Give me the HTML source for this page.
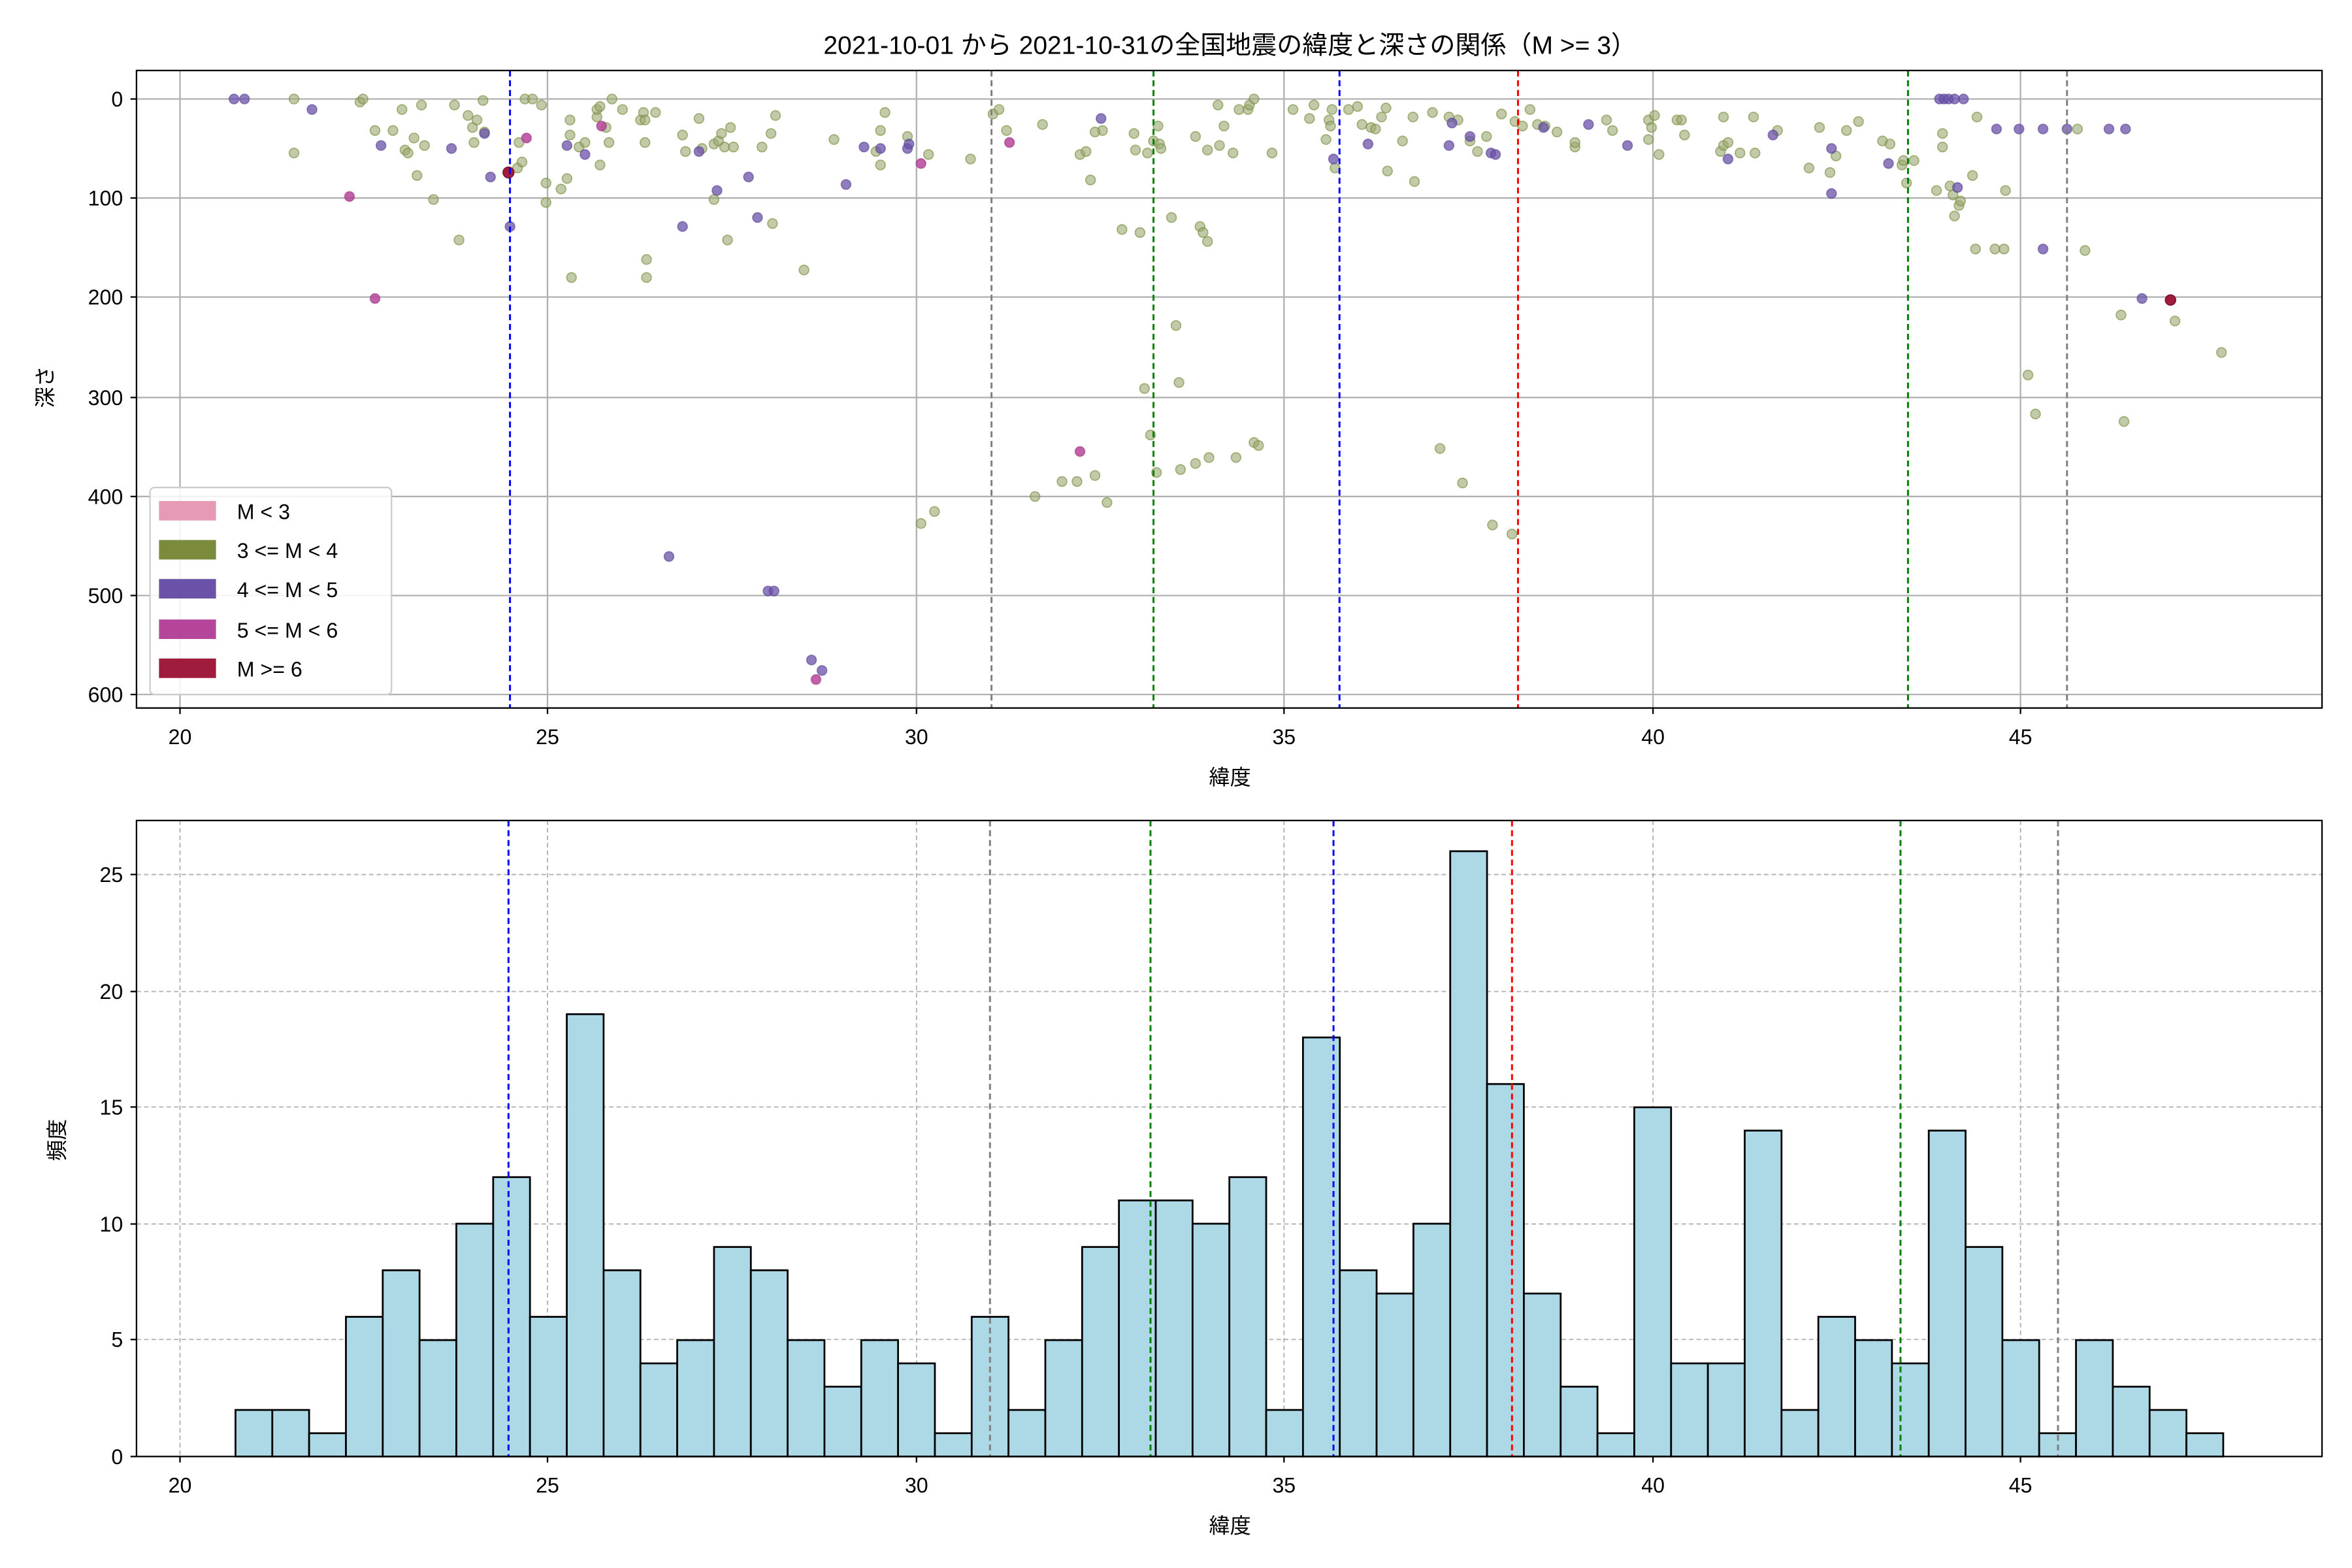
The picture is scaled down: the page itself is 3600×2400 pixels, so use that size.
<!DOCTYPE html>
<html><head><meta charset="utf-8"><style>body{margin:0;background:#fff}svg{display:block}text{font-family:"Liberation Sans","Noto Sans CJK JP",sans-serif;fill:#000}</style></head>
<body>
<svg xmlns="http://www.w3.org/2000/svg" width="3600" height="2400" viewBox="0 0 1568 1045.33">
<rect width="1568" height="1046" fill="#fff"/>
<text x="820" y="36" font-size="17" text-anchor="middle">2021-10-01 から 2021-10-31の全国地震の緯度と深さの関係（M &gt;= 3）</text>
<!-- TOP PANEL -->
<g stroke="#b0b0b0" stroke-width="1">
<line x1="120" y1="47" x2="120" y2="472"/><line x1="365" y1="47" x2="365" y2="472"/><line x1="611" y1="47" x2="611" y2="472"/><line x1="856" y1="47" x2="856" y2="472"/><line x1="1102" y1="47" x2="1102" y2="472"/><line x1="1347" y1="47" x2="1347" y2="472"/>
<line x1="91" y1="66" x2="1548" y2="66"/><line x1="91" y1="132" x2="1548" y2="132"/><line x1="91" y1="198" x2="1548" y2="198"/><line x1="91" y1="265" x2="1548" y2="265"/><line x1="91" y1="331" x2="1548" y2="331"/><line x1="91" y1="397" x2="1548" y2="397"/><line x1="91" y1="463" x2="1548" y2="463"/>
</g>
<g fill="#9aa870" fill-opacity="0.6" stroke="#7a8c3c" stroke-opacity="0.6" stroke-width="0.8">
<circle cx="196" cy="66" r="3.2"/><circle cx="196" cy="102" r="3.2"/><circle cx="240" cy="68" r="3.2"/><circle cx="242" cy="66" r="3.2"/><circle cx="250" cy="87" r="3.2"/><circle cx="262" cy="87" r="3.2"/><circle cx="268" cy="73" r="3.2"/><circle cx="270" cy="100" r="3.2"/><circle cx="272" cy="102" r="3.2"/><circle cx="276" cy="92" r="3.2"/><circle cx="278" cy="117" r="3.2"/><circle cx="283" cy="97" r="3.2"/><circle cx="281" cy="70" r="3.2"/><circle cx="289" cy="133" r="3.2"/><circle cx="303" cy="70" r="3.2"/><circle cx="306" cy="160" r="3.2"/><circle cx="312" cy="77" r="3.2"/><circle cx="315" cy="85" r="3.2"/><circle cx="318" cy="80" r="3.2"/><circle cx="316" cy="95" r="3.2"/><circle cx="323" cy="88" r="3.2"/><circle cx="322" cy="67" r="3.2"/><circle cx="345" cy="112" r="3.2"/><circle cx="348" cy="108" r="3.2"/><circle cx="346" cy="95" r="3.2"/><circle cx="350" cy="66" r="3.2"/><circle cx="355" cy="66" r="3.2"/><circle cx="361" cy="70" r="3.2"/><circle cx="364" cy="122" r="3.2"/><circle cx="364" cy="135" r="3.2"/><circle cx="374" cy="126" r="3.2"/><circle cx="378" cy="119" r="3.2"/><circle cx="380" cy="90" r="3.2"/><circle cx="380" cy="80" r="3.2"/><circle cx="381" cy="185" r="3.2"/><circle cx="386" cy="98" r="3.2"/><circle cx="390" cy="95" r="3.2"/><circle cx="398" cy="78" r="3.2"/><circle cx="398" cy="73" r="3.2"/><circle cx="400" cy="71" r="3.2"/><circle cx="400" cy="110" r="3.2"/><circle cx="404" cy="85" r="3.2"/><circle cx="406" cy="95" r="3.2"/><circle cx="408" cy="66" r="3.2"/><circle cx="415" cy="73" r="3.2"/><circle cx="427" cy="80" r="3.2"/><circle cx="429" cy="75" r="3.2"/><circle cx="430" cy="80" r="3.2"/><circle cx="430" cy="95" r="3.2"/><circle cx="431" cy="173" r="3.2"/><circle cx="431" cy="185" r="3.2"/><circle cx="437" cy="75" r="3.2"/><circle cx="455" cy="90" r="3.2"/><circle cx="457" cy="101" r="3.2"/><circle cx="466" cy="79" r="3.2"/><circle cx="468" cy="99" r="3.2"/><circle cx="476" cy="96" r="3.2"/><circle cx="479" cy="94" r="3.2"/><circle cx="481" cy="89" r="3.2"/><circle cx="483" cy="98" r="3.2"/><circle cx="487" cy="85" r="3.2"/><circle cx="489" cy="98" r="3.2"/><circle cx="476" cy="133" r="3.2"/><circle cx="485" cy="160" r="3.2"/><circle cx="508" cy="98" r="3.2"/><circle cx="514" cy="89" r="3.2"/><circle cx="517" cy="77" r="3.2"/><circle cx="515" cy="149" r="3.2"/><circle cx="536" cy="180" r="3.2"/><circle cx="556" cy="93" r="3.2"/><circle cx="584" cy="101" r="3.2"/><circle cx="587" cy="87" r="3.2"/><circle cx="590" cy="75" r="3.2"/><circle cx="587" cy="110" r="3.2"/><circle cx="605" cy="91" r="3.2"/><circle cx="614" cy="349" r="3.2"/><circle cx="619" cy="103" r="3.2"/><circle cx="623" cy="341" r="3.2"/><circle cx="647" cy="106" r="3.2"/><circle cx="662" cy="76" r="3.2"/><circle cx="666" cy="73" r="3.2"/><circle cx="671" cy="87" r="3.2"/><circle cx="690" cy="331" r="3.2"/><circle cx="695" cy="83" r="3.2"/><circle cx="708" cy="321" r="3.2"/><circle cx="720" cy="103" r="3.2"/><circle cx="724" cy="101" r="3.2"/><circle cx="727" cy="120" r="3.2"/><circle cx="735" cy="87" r="3.2"/><circle cx="730" cy="88" r="3.2"/><circle cx="718" cy="321" r="3.2"/><circle cx="730" cy="317" r="3.2"/><circle cx="738" cy="335" r="3.2"/><circle cx="748" cy="153" r="3.2"/><circle cx="756" cy="89" r="3.2"/><circle cx="757" cy="100" r="3.2"/><circle cx="760" cy="155" r="3.2"/><circle cx="763" cy="259" r="3.2"/><circle cx="765" cy="102" r="3.2"/><circle cx="767" cy="290" r="3.2"/><circle cx="769" cy="94" r="3.2"/><circle cx="772" cy="84" r="3.2"/><circle cx="773" cy="96" r="3.2"/><circle cx="774" cy="99" r="3.2"/><circle cx="771" cy="315" r="3.2"/><circle cx="781" cy="145" r="3.2"/><circle cx="784" cy="217" r="3.2"/><circle cx="786" cy="255" r="3.2"/><circle cx="787" cy="313" r="3.2"/><circle cx="797" cy="309" r="3.2"/><circle cx="800" cy="151" r="3.2"/><circle cx="802" cy="155" r="3.2"/><circle cx="805" cy="161" r="3.2"/><circle cx="806" cy="305" r="3.2"/><circle cx="805" cy="100" r="3.2"/><circle cx="797" cy="91" r="3.2"/><circle cx="812" cy="70" r="3.2"/><circle cx="813" cy="97" r="3.2"/><circle cx="816" cy="84" r="3.2"/><circle cx="822" cy="102" r="3.2"/><circle cx="826" cy="73" r="3.2"/><circle cx="824" cy="305" r="3.2"/><circle cx="832" cy="73" r="3.2"/><circle cx="833" cy="70" r="3.2"/><circle cx="836" cy="66" r="3.2"/><circle cx="836" cy="295" r="3.2"/><circle cx="839" cy="297" r="3.2"/><circle cx="848" cy="102" r="3.2"/><circle cx="862" cy="73" r="3.2"/><circle cx="873" cy="79" r="3.2"/><circle cx="876" cy="70" r="3.2"/><circle cx="886" cy="80" r="3.2"/><circle cx="884" cy="93" r="3.2"/><circle cx="887" cy="84" r="3.2"/><circle cx="890" cy="112" r="3.2"/><circle cx="888" cy="73" r="3.2"/><circle cx="899" cy="73" r="3.2"/><circle cx="905" cy="71" r="3.2"/><circle cx="908" cy="83" r="3.2"/><circle cx="914" cy="85" r="3.2"/><circle cx="917" cy="86" r="3.2"/><circle cx="921" cy="78" r="3.2"/><circle cx="924" cy="72" r="3.2"/><circle cx="925" cy="114" r="3.2"/><circle cx="935" cy="94" r="3.2"/><circle cx="943" cy="121" r="3.2"/><circle cx="942" cy="78" r="3.2"/><circle cx="955" cy="75" r="3.2"/><circle cx="960" cy="299" r="3.2"/><circle cx="966" cy="78" r="3.2"/><circle cx="972" cy="80" r="3.2"/><circle cx="975" cy="322" r="3.2"/><circle cx="980" cy="94" r="3.2"/><circle cx="985" cy="101" r="3.2"/><circle cx="991" cy="91" r="3.2"/><circle cx="995" cy="350" r="3.2"/><circle cx="1001" cy="76" r="3.2"/><circle cx="1008" cy="356" r="3.2"/><circle cx="1010" cy="81" r="3.2"/><circle cx="1015" cy="84" r="3.2"/><circle cx="1020" cy="73" r="3.2"/><circle cx="1025" cy="83" r="3.2"/><circle cx="1030" cy="84" r="3.2"/><circle cx="1038" cy="88" r="3.2"/><circle cx="1050" cy="98" r="3.2"/><circle cx="1050" cy="95" r="3.2"/><circle cx="1071" cy="80" r="3.2"/><circle cx="1075" cy="87" r="3.2"/><circle cx="1099" cy="80" r="3.2"/><circle cx="1099" cy="93" r="3.2"/><circle cx="1101" cy="85" r="3.2"/><circle cx="1103" cy="77" r="3.2"/><circle cx="1106" cy="103" r="3.2"/><circle cx="1118" cy="80" r="3.2"/><circle cx="1123" cy="90" r="3.2"/><circle cx="1121" cy="80" r="3.2"/><circle cx="1147" cy="101" r="3.2"/><circle cx="1149" cy="97" r="3.2"/><circle cx="1152" cy="95" r="3.2"/><circle cx="1160" cy="102" r="3.2"/><circle cx="1149" cy="78" r="3.2"/><circle cx="1169" cy="78" r="3.2"/><circle cx="1170" cy="102" r="3.2"/><circle cx="1185" cy="87" r="3.2"/><circle cx="1206" cy="112" r="3.2"/><circle cx="1213" cy="85" r="3.2"/><circle cx="1220" cy="115" r="3.2"/><circle cx="1224" cy="104" r="3.2"/><circle cx="1231" cy="87" r="3.2"/><circle cx="1239" cy="81" r="3.2"/><circle cx="1255" cy="94" r="3.2"/><circle cx="1260" cy="96" r="3.2"/><circle cx="1268" cy="110" r="3.2"/><circle cx="1269" cy="107" r="3.2"/><circle cx="1271" cy="122" r="3.2"/><circle cx="1276" cy="107" r="3.2"/><circle cx="1291" cy="127" r="3.2"/><circle cx="1295" cy="89" r="3.2"/><circle cx="1295" cy="98" r="3.2"/><circle cx="1300" cy="124" r="3.2"/><circle cx="1302" cy="130" r="3.2"/><circle cx="1303" cy="144" r="3.2"/><circle cx="1306" cy="137" r="3.2"/><circle cx="1307" cy="134" r="3.2"/><circle cx="1315" cy="117" r="3.2"/><circle cx="1318" cy="78" r="3.2"/><circle cx="1317" cy="166" r="3.2"/><circle cx="1330" cy="166" r="3.2"/><circle cx="1336" cy="166" r="3.2"/><circle cx="1337" cy="127" r="3.2"/><circle cx="1352" cy="250" r="3.2"/><circle cx="1357" cy="276" r="3.2"/><circle cx="1385" cy="86" r="3.2"/><circle cx="1390" cy="167" r="3.2"/><circle cx="1414" cy="210" r="3.2"/><circle cx="1416" cy="281" r="3.2"/><circle cx="1450" cy="214" r="3.2"/><circle cx="1481" cy="235" r="3.2"/>
</g>
<g fill="#6a52a8" fill-opacity="0.75" stroke="#5a4498" stroke-opacity="0.6" stroke-width="0.8">
<circle cx="156" cy="66" r="3.2"/><circle cx="163" cy="66" r="3.2"/><circle cx="208" cy="73" r="3.2"/><circle cx="254" cy="97" r="3.2"/><circle cx="301" cy="99" r="3.2"/><circle cx="323" cy="89" r="3.2"/><circle cx="327" cy="118" r="3.2"/><circle cx="340" cy="151" r="3.2"/><circle cx="378" cy="97" r="3.2"/><circle cx="390" cy="103" r="3.2"/><circle cx="455" cy="151" r="3.2"/><circle cx="466" cy="101" r="3.2"/><circle cx="478" cy="127" r="3.2"/><circle cx="499" cy="118" r="3.2"/><circle cx="505" cy="145" r="3.2"/><circle cx="564" cy="123" r="3.2"/><circle cx="576" cy="98" r="3.2"/><circle cx="587" cy="99" r="3.2"/><circle cx="605" cy="99" r="3.2"/><circle cx="606" cy="96" r="3.2"/><circle cx="734" cy="79" r="3.2"/><circle cx="889" cy="106" r="3.2"/><circle cx="912" cy="96" r="3.2"/><circle cx="966" cy="97" r="3.2"/><circle cx="968" cy="82" r="3.2"/><circle cx="980" cy="91" r="3.2"/><circle cx="994" cy="102" r="3.2"/><circle cx="997" cy="103" r="3.2"/><circle cx="1029" cy="85" r="3.2"/><circle cx="1059" cy="83" r="3.2"/><circle cx="1085" cy="97" r="3.2"/><circle cx="1152" cy="106" r="3.2"/><circle cx="1182" cy="90" r="3.2"/><circle cx="1221" cy="99" r="3.2"/><circle cx="1221" cy="129" r="3.2"/><circle cx="1259" cy="109" r="3.2"/><circle cx="1293" cy="66" r="3.2"/><circle cx="1296" cy="66" r="3.2"/><circle cx="1299" cy="66" r="3.2"/><circle cx="1303" cy="66" r="3.2"/><circle cx="1309" cy="66" r="3.2"/><circle cx="1305" cy="125" r="3.2"/><circle cx="1331" cy="86" r="3.2"/><circle cx="1346" cy="86" r="3.2"/><circle cx="1362" cy="86" r="3.2"/><circle cx="1362" cy="166" r="3.2"/><circle cx="1378" cy="86" r="3.2"/><circle cx="1406" cy="86" r="3.2"/><circle cx="1417" cy="86" r="3.2"/><circle cx="1428" cy="199" r="3.2"/><circle cx="446" cy="371" r="3.2"/><circle cx="512" cy="394" r="3.2"/><circle cx="516" cy="394" r="3.2"/><circle cx="541" cy="440" r="3.2"/><circle cx="548" cy="447" r="3.2"/>
</g>
<g fill="#b5459a" fill-opacity="0.85" stroke="#a03585" stroke-opacity="0.6" stroke-width="0.8">
<circle cx="233" cy="131" r="3.2"/><circle cx="250" cy="199" r="3.2"/><circle cx="351" cy="92" r="3.2"/><circle cx="401" cy="84" r="3.2"/><circle cx="614" cy="109" r="3.2"/><circle cx="673" cy="95" r="3.2"/><circle cx="720" cy="301" r="3.2"/><circle cx="544" cy="453" r="3.2"/>
</g>
<g fill="#a01c3c" stroke="#801030" stroke-width="0.8">
<circle cx="339" cy="115" r="3.6"/><circle cx="1447" cy="200" r="3.4"/>
</g>
<g stroke-width="1.3" stroke-dasharray="4,2.5">
<line x1="340" y1="47" x2="340" y2="472" stroke="#0000ff"/><line x1="661" y1="47" x2="661" y2="472" stroke="#808080"/><line x1="769" y1="47" x2="769" y2="472" stroke="#008000"/><line x1="893" y1="47" x2="893" y2="472" stroke="#0000ff"/><line x1="1012" y1="47" x2="1012" y2="472" stroke="#ff0000"/><line x1="1272" y1="47" x2="1272" y2="472" stroke="#008000"/><line x1="1378" y1="47" x2="1378" y2="472" stroke="#808080"/>
</g>
<rect x="100" y="325" width="161" height="138" rx="3" fill="#fff" fill-opacity="0.85" stroke="#ccc"/>
<rect x="106" y="334" width="38" height="13" fill="#e79ab6"/>
<rect x="106" y="360" width="38" height="13" fill="#7a8c3c"/>
<rect x="106" y="386" width="38" height="13" fill="#6a52a8"/>
<rect x="106" y="413" width="38" height="13" fill="#b5459a"/>
<rect x="106" y="439" width="38" height="13" fill="#a01c3c"/>
<g font-size="14"><text x="158" y="346">M &lt; 3</text><text x="158" y="372">3 &lt;= M &lt; 4</text><text x="158" y="398">4 &lt;= M &lt; 5</text><text x="158" y="425">5 &lt;= M &lt; 6</text><text x="158" y="451">M &gt;= 6</text></g>
<rect x="91" y="47" width="1457" height="425" fill="none" stroke="#000" stroke-width="1"/>
<g stroke="#000"><line x1="120" y1="472" x2="120" y2="476"/><line x1="365" y1="472" x2="365" y2="476"/><line x1="611" y1="472" x2="611" y2="476"/><line x1="856" y1="472" x2="856" y2="476"/><line x1="1102" y1="472" x2="1102" y2="476"/><line x1="1347" y1="472" x2="1347" y2="476"/>
<line x1="87" y1="66" x2="91" y2="66"/><line x1="87" y1="132" x2="91" y2="132"/><line x1="87" y1="198" x2="91" y2="198"/><line x1="87" y1="265" x2="91" y2="265"/><line x1="87" y1="331" x2="91" y2="331"/><line x1="87" y1="397" x2="91" y2="397"/><line x1="87" y1="463" x2="91" y2="463"/></g>
<g font-size="14" text-anchor="middle"><text x="120" y="496">20</text><text x="365" y="496">25</text><text x="611" y="496">30</text><text x="856" y="496">35</text><text x="1102" y="496">40</text><text x="1347" y="496">45</text></g>
<g font-size="14" text-anchor="end"><text x="82" y="71">0</text><text x="82" y="137">100</text><text x="82" y="203">200</text><text x="82" y="270">300</text><text x="82" y="336">400</text><text x="82" y="402">500</text><text x="82" y="468">600</text></g>
<text x="820" y="523" font-size="14" text-anchor="middle">緯度</text>
<text transform="translate(35,258) rotate(-90)" font-size="14" text-anchor="middle">深さ</text>
<!-- BOTTOM PANEL -->
<g stroke="#b0b0b0" stroke-width="0.8" stroke-dasharray="3,2">
<line x1="120" y1="547" x2="120" y2="971"/><line x1="365" y1="547" x2="365" y2="971"/><line x1="611" y1="547" x2="611" y2="971"/><line x1="856" y1="547" x2="856" y2="971"/><line x1="1102" y1="547" x2="1102" y2="971"/><line x1="1347" y1="547" x2="1347" y2="971"/>
<line x1="91" y1="893" x2="1548" y2="893"/><line x1="91" y1="816" x2="1548" y2="816"/><line x1="91" y1="738" x2="1548" y2="738"/><line x1="91" y1="661" x2="1548" y2="661"/><line x1="91" y1="583" x2="1548" y2="583"/>
</g>
<g fill="#add8e6" stroke="#000" stroke-width="1.2">
<rect x="157.00" y="939.96" width="24.54" height="31.04"/>
<rect x="181.54" y="939.96" width="24.54" height="31.04"/>
<rect x="206.08" y="955.48" width="24.54" height="15.52"/>
<rect x="230.62" y="877.88" width="24.54" height="93.12"/>
<rect x="255.16" y="846.84" width="24.54" height="124.16"/>
<rect x="279.70" y="893.40" width="24.54" height="77.60"/>
<rect x="304.24" y="815.80" width="24.54" height="155.20"/>
<rect x="328.78" y="784.76" width="24.54" height="186.24"/>
<rect x="353.32" y="877.88" width="24.54" height="93.12"/>
<rect x="377.86" y="676.12" width="24.54" height="294.88"/>
<rect x="402.40" y="846.84" width="24.54" height="124.16"/>
<rect x="426.94" y="908.92" width="24.54" height="62.08"/>
<rect x="451.48" y="893.40" width="24.54" height="77.60"/>
<rect x="476.02" y="831.32" width="24.54" height="139.68"/>
<rect x="500.56" y="846.84" width="24.54" height="124.16"/>
<rect x="525.10" y="893.40" width="24.54" height="77.60"/>
<rect x="549.64" y="924.44" width="24.54" height="46.56"/>
<rect x="574.18" y="893.40" width="24.54" height="77.60"/>
<rect x="598.72" y="908.92" width="24.54" height="62.08"/>
<rect x="623.26" y="955.48" width="24.54" height="15.52"/>
<rect x="647.80" y="877.88" width="24.54" height="93.12"/>
<rect x="672.34" y="939.96" width="24.54" height="31.04"/>
<rect x="696.88" y="893.40" width="24.54" height="77.60"/>
<rect x="721.42" y="831.32" width="24.54" height="139.68"/>
<rect x="745.96" y="800.28" width="24.54" height="170.72"/>
<rect x="770.50" y="800.28" width="24.54" height="170.72"/>
<rect x="795.04" y="815.80" width="24.54" height="155.20"/>
<rect x="819.58" y="784.76" width="24.54" height="186.24"/>
<rect x="844.12" y="939.96" width="24.54" height="31.04"/>
<rect x="868.66" y="691.64" width="24.54" height="279.36"/>
<rect x="893.20" y="846.84" width="24.54" height="124.16"/>
<rect x="917.74" y="862.36" width="24.54" height="108.64"/>
<rect x="942.28" y="815.80" width="24.54" height="155.20"/>
<rect x="966.82" y="567.48" width="24.54" height="403.52"/>
<rect x="991.36" y="722.68" width="24.54" height="248.32"/>
<rect x="1015.90" y="862.36" width="24.54" height="108.64"/>
<rect x="1040.44" y="924.44" width="24.54" height="46.56"/>
<rect x="1064.98" y="955.48" width="24.54" height="15.52"/>
<rect x="1089.52" y="738.20" width="24.54" height="232.80"/>
<rect x="1114.06" y="908.92" width="24.54" height="62.08"/>
<rect x="1138.60" y="908.92" width="24.54" height="62.08"/>
<rect x="1163.14" y="753.72" width="24.54" height="217.28"/>
<rect x="1187.68" y="939.96" width="24.54" height="31.04"/>
<rect x="1212.22" y="877.88" width="24.54" height="93.12"/>
<rect x="1236.76" y="893.40" width="24.54" height="77.60"/>
<rect x="1261.30" y="908.92" width="24.54" height="62.08"/>
<rect x="1285.84" y="753.72" width="24.54" height="217.28"/>
<rect x="1310.38" y="831.32" width="24.54" height="139.68"/>
<rect x="1334.92" y="893.40" width="24.54" height="77.60"/>
<rect x="1359.46" y="955.48" width="24.54" height="15.52"/>
<rect x="1384.00" y="893.40" width="24.54" height="77.60"/>
<rect x="1408.54" y="924.44" width="24.54" height="46.56"/>
<rect x="1433.08" y="939.96" width="24.54" height="31.04"/>
<rect x="1457.62" y="955.48" width="24.54" height="15.52"/>
</g>
<g stroke-width="1.3" stroke-dasharray="4,2.5">
<line x1="339" y1="547" x2="339" y2="971" stroke="#0000ff"/><line x1="660" y1="547" x2="660" y2="971" stroke="#808080"/><line x1="767" y1="547" x2="767" y2="971" stroke="#008000"/><line x1="889" y1="547" x2="889" y2="971" stroke="#0000ff"/><line x1="1008" y1="547" x2="1008" y2="971" stroke="#ff0000"/><line x1="1267" y1="547" x2="1267" y2="971" stroke="#008000"/><line x1="1372" y1="547" x2="1372" y2="971" stroke="#808080"/>
</g>
<rect x="91" y="547" width="1457" height="424" fill="none" stroke="#000" stroke-width="1"/>
<g stroke="#000"><line x1="120" y1="971" x2="120" y2="975"/><line x1="365" y1="971" x2="365" y2="975"/><line x1="611" y1="971" x2="611" y2="975"/><line x1="856" y1="971" x2="856" y2="975"/><line x1="1102" y1="971" x2="1102" y2="975"/><line x1="1347" y1="971" x2="1347" y2="975"/>
<line x1="87" y1="971" x2="91" y2="971"/><line x1="87" y1="893" x2="91" y2="893"/><line x1="87" y1="816" x2="91" y2="816"/><line x1="87" y1="738" x2="91" y2="738"/><line x1="87" y1="661" x2="91" y2="661"/><line x1="87" y1="583" x2="91" y2="583"/></g>
<g font-size="14" text-anchor="middle"><text x="120" y="995">20</text><text x="365" y="995">25</text><text x="611" y="995">30</text><text x="856" y="995">35</text><text x="1102" y="995">40</text><text x="1347" y="995">45</text></g>
<g font-size="14" text-anchor="end"><text x="82" y="976">0</text><text x="82" y="898">5</text><text x="82" y="821">10</text><text x="82" y="743">15</text><text x="82" y="666">20</text><text x="82" y="588">25</text></g>
<text x="820" y="1022" font-size="14" text-anchor="middle">緯度</text>
<text transform="translate(43,760) rotate(-90)" font-size="14" text-anchor="middle">頻度</text>
</svg>
</body></html>
